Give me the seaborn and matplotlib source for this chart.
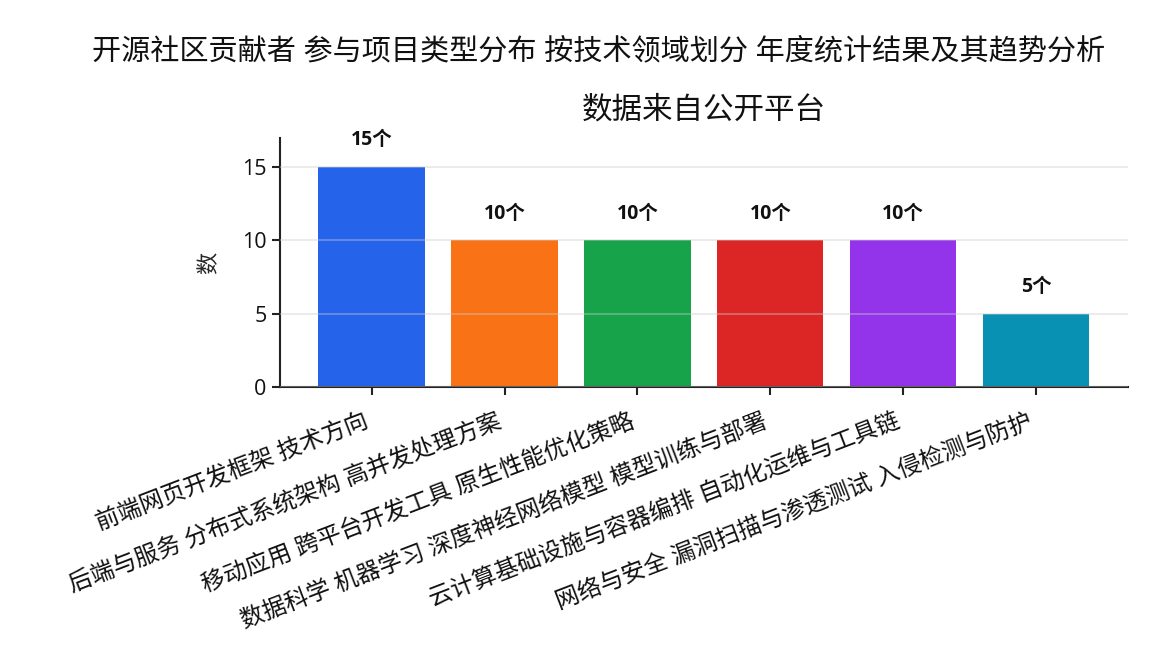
import matplotlib
matplotlib.use("Agg")
import matplotlib.pyplot as plt
import seaborn as sns

# Data
categories = [
    "前端网页开发框架 技术方向",
    "后端与服务 分布式系统架构 高并发处理方案",
    "移动应用 跨平台开发工具 原生性能优化策略",
    "数据科学 机器学习 深度神经网络模型 模型训练与部署",
    "云计算基础设施与容器编排 自动化运维与工具链",
    "网络与安全 漏洞扫描与渗透测试 入侵检测与防护",
]
counts = [15, 10, 10, 10, 10, 5]
unit = "个"
colors = ["#2563eb", "#f97316", "#16a34a", "#dc2626", "#9333ea", "#0891b2"]
title_lines = [
    "开源社区贡献者 参与项目类型分布 按技术领域划分 年度统计结果及其趋势分析",
    "数据来自公开平台",
]
y_label = "数"

# Styling
sns.set_style("white")
plt.rcParams["font.family"] = ["Open Sans", "Noto Sans CJK SC", "DejaVu Sans"]

fig, ax = plt.subplots(figsize=(11.52, 6.72), dpi=100)
fig.subplots_adjust(left=0.243, right=0.979, bottom=0.424, top=0.795)

sns.barplot(x=categories, y=counts, hue=categories, palette=colors,
            legend=False, width=0.8, saturation=1, linewidth=0, ax=ax)

for c in ax.containers:
    ax.bar_label(c, labels=[f"{int(v)}{unit}" for v in c.datavalues],
                 padding=12, fontsize=14, fontweight="bold", color="#111111")

ax.set_xlim(-0.69, len(categories) - 0.31)
ax.set_ylim(0, 17)
ax.set_yticks([0, 5, 10, 15])
ax.yaxis.grid(True, color="#cccccc", alpha=0.45, linewidth=1.2)
ax.set_axisbelow(False)
ax.set_xlabel("")
ax.set_ylabel(y_label, fontsize=16, labelpad=16)

# long first title line would run past the edge when centred on the axes,
# so it is centred on the figure; the second line stays over the axes
fig.text(0.52, 1 - 52 / 672, title_lines[0], fontsize=21,
         ha="center", va="center", color="#111111")
ax.set_title(title_lines[1], fontsize=22, pad=14, color="#111111")

ax.tick_params(axis="y", labelsize=15.5)
ax.tick_params(axis="x", labelsize=17, pad=10)
ax.tick_params(axis="both", length=6, width=1.5, color="#222222",
               labelcolor="#111111", bottom=True, left=True)
plt.setp(ax.get_xticklabels(), rotation=21, ha="right")
sns.despine(ax=ax)
for s in ["left", "bottom"]:
    ax.spines[s].set_color("#222222")
    ax.spines[s].set_linewidth(1.5)

fig.savefig("out.png", dpi=100)
